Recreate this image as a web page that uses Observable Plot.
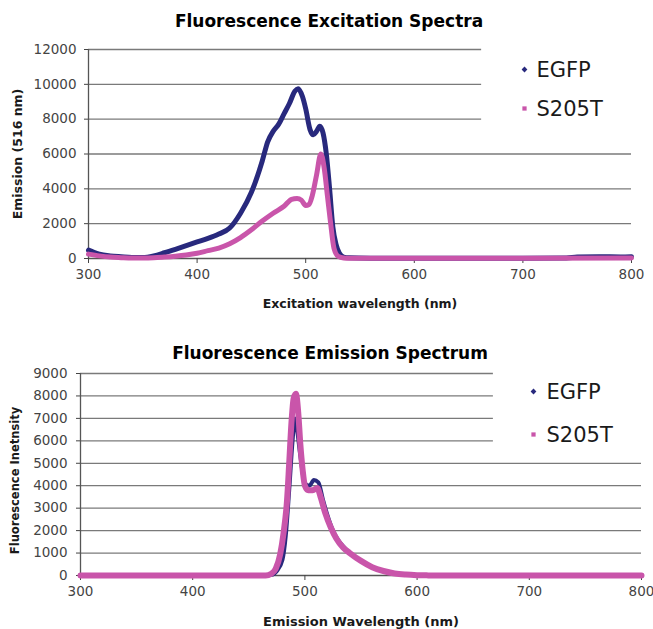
<!DOCTYPE html>
<html><head><meta charset="utf-8">
<script src="https://cdn.jsdelivr.net/npm/d3@7"></script>
<script src="https://cdn.jsdelivr.net/npm/@observablehq/plot@0.6"></script>
<style>body{margin:0;background:#fff} #chart svg{display:block}</style>
</head><body><div id="chart"></div>
<script>
const seriesNames = ["EGFP", "S205T"];
const seriesColors = ["#28297d", "#c955aa"];
const xTicks = [300, 400, 500, 600, 700, 800];
const excYTicks = [0, 2000, 4000, 6000, 8000, 10000, 12000];
const emYTicks = [0, 1000, 2000, 3000, 4000, 5000, 6000, 7000, 8000, 9000];

// Excitation spectra (emission at 516 nm)
const excEGFPnm  = [300,305,310,320,330,340,350,360,370,380,390,400,410,420,430,440,450,460,465,470,475,480,485,490,493,497,500,504,507,510,513,516,519,522,525,528,531,535,540,560,600,650,700,740,750,770,790,800];
const excEGFPval = [480,350,250,150,100,60,60,150,330,530,740,950,1150,1400,1750,2600,3800,5600,6700,7300,7700,8300,8900,9600,9750,9300,8600,7400,7100,7300,7600,7200,6000,4000,1800,800,300,80,40,20,10,10,10,30,80,100,90,100];
const excS205Tnm  = [300,310,320,330,340,350,360,370,380,390,400,410,420,430,440,450,460,470,480,487,492,496,500,503,506,510,514,517,520,523,526,530,535,540,600,700,800];
const excS205Tval = [250,150,80,50,30,30,40,80,130,200,300,450,600,850,1200,1650,2150,2600,3000,3400,3450,3350,3050,3100,3600,4800,6000,5200,3600,2000,600,120,30,10,10,10,30];

// Emission spectrum
const emEGFPnm  = [300,400,460,470,475,480,483,486,489,491,493,496,500,504,508,512,516,520,525,530,535,540,550,560,570,580,590,600,610,620,700,800];
const emEGFPval = [0,0,0,30,200,700,1800,3800,6000,7000,6500,5300,4100,4000,4250,4150,3400,2700,2000,1550,1250,1000,650,380,200,90,40,15,5,0,0,0];
const emS205Tnm  = [300,400,465,470,474,478,481,484,486,488,490,492,494,496,498,500,503,507,511,514,518,523,528,534,540,550,560,570,580,590,600,610,620,700,800];
const emS205Tval = [0,0,0,80,300,950,1900,3300,5000,6800,7900,8100,7300,5800,4700,4000,3800,3800,3900,3500,2800,2150,1650,1250,1000,650,370,200,90,40,15,5,0,0,0];

const FONT = "'DejaVu Sans', 'Liberation Sans', Arial, sans-serif";
const toRows = (xs, ys, s) => xs.map((x, i) => ({x, y: ys[i], series: s}));

function chart(cfg) {
  const rows = [toRows(cfg.a.nm, cfg.a.val, seriesNames[0]), toRows(cfg.b.nm, cfg.b.val, seriesNames[1])];
  const grid = cfg.yTicks.filter(t => t > 0).map(t => ({y: t, x2: t >= cfg.cutFrom ? cfg.cutX : 800}));
  const legendMarks = seriesNames.flatMap((name, i) => [
    Plot.dot([name], {frameAnchor: "top-right", dx: cfg.legDot, dy: cfg.legDy[i] - 1, r: i === 0 ? 2.6 : 2.4, symbol: i === 0 ? "diamond2" : "square", fill: seriesColors[i], stroke: "none"}),
    Plot.text([name], {text: d => d, frameAnchor: "top-right", lineAnchor: "middle", dx: cfg.legText, dy: cfg.legDy[i], textAnchor: "start", fontSize: cfg.legSize, fill: "#1a1a1a", fontFamily: FONT})
  ]);
  return Plot.plot({
    width: 653, height: cfg.height,
    marginTop: cfg.mt, marginBottom: cfg.mb, marginLeft: cfg.ml, marginRight: cfg.mr,
    style: {fontFamily: FONT, background: "#fff", overflow: "visible"},
    x: {domain: [300, 800]},
    y: {domain: [0, cfg.yMax]},
    marks: [
      Plot.ruleY(grid, {y: "y", x1: 300, x2: "x2", stroke: "#7a7a7a", strokeWidth: 1.3}),
      Plot.ruleX([300], {stroke: "#555", strokeWidth: 1.3}),
      Plot.ruleY([0], {stroke: "#555", strokeWidth: 1.3}),
      Plot.axisX({ticks: xTicks, tickFormat: d => String(d), tickSize: 5, tickPadding: 6, fontSize: cfg.tickSize, color: "#444", label: null}),
      Plot.axisY({ticks: cfg.yTicks, tickFormat: d => String(d), tickSize: 4, tickPadding: cfg.yPad, fontSize: cfg.tickSize, color: "#444", label: null}),
      Plot.line(rows[0], {x: "x", y: "y", stroke: seriesColors[0], strokeWidth: cfg.swA, strokeLinejoin: "round", strokeLinecap: "round", curve: "monotone-x"}),
      Plot.line(rows[1], {x: "x", y: "y", stroke: seriesColors[1], strokeWidth: cfg.swB, strokeLinejoin: "round", strokeLinecap: "round", curve: "monotone-x"}),
      Plot.text([cfg.title], {text: d => d, frameAnchor: "top", lineAnchor: "middle", textAnchor: "middle", dx: -31, dy: cfg.titleDy, fontSize: 17, fontWeight: "bold", fill: "#000", fontFamily: FONT}),
      Plot.text([cfg.xLabel], {text: d => d, frameAnchor: "bottom", lineAnchor: "middle", textAnchor: "middle", dy: cfg.xLabDy, fontSize: cfg.xLabSize, fontWeight: "bold", fill: "#1a1a1a", fontFamily: FONT}),
      Plot.text([cfg.yLabel], {text: d => d, frameAnchor: "left", lineAnchor: "middle", textAnchor: "middle", dx: cfg.yLabDx, dy: cfg.yLabDyOff, rotate: -90, fontSize: cfg.yLabSize, fontWeight: "bold", fill: "#1a1a1a", fontFamily: FONT}),
      ...legendMarks
    ]
  });
}

const root = document.getElementById("chart");
root.append(chart({
  height: 320, mt: 49, mb: 62, ml: 88, mr: 22, yMax: 12000, yTicks: excYTicks,
  cutFrom: 8000, cutX: 662, a: {nm: excEGFPnm, val: excEGFPval}, b: {nm: excS205Tnm, val: excS205Tval},
  swA: 5, swB: 5, tickSize: 13.5, yPad: 8,
  title: "Fluorescence Excitation Spectra", titleDy: -28,
  xLabel: "Excitation wavelength (nm)", xLabSize: 12.5, xLabDy: 45,
  yLabel: "Emission (516 nm)", yLabSize: 12.5, yLabDx: -71, yLabDyOff: 0,
  legDot: -107, legText: -95, legDy: [21, 60], legSize: 21
}));
root.append(chart({
  height: 309, mt: 53, mb: 54, ml: 80, mr: 12, yMax: 9000, yTicks: emYTicks,
  cutFrom: 6000, cutX: 668, a: {nm: emEGFPnm, val: emEGFPval}, b: {nm: emS205Tnm, val: emS205Tval},
  swA: 4, swB: 6, tickSize: 13.5, yPad: 9,
  title: "Fluorescence Emission Spectrum", titleDy: -20,
  xLabel: "Emission Wavelength (nm)", xLabSize: 13, xLabDy: 46,
  yLabel: "Fluorescence Inetnsity", yLabSize: 11.5, yLabDx: -65, yLabDyOff: 6,
  legDot: -108, legText: -95, legDy: [19, 62], legSize: 21
}));
</script>
</body></html>
